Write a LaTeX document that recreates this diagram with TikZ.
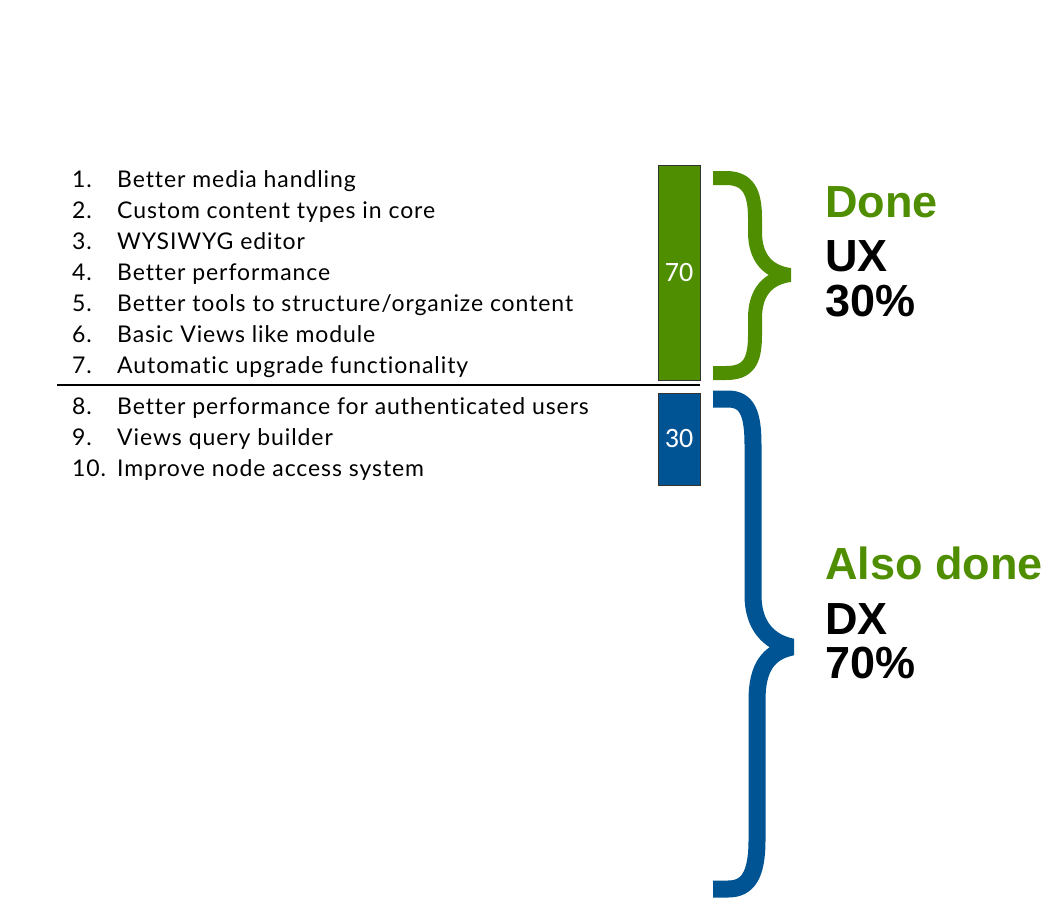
\documentclass[tikz,border=0pt]{standalone}
\usepackage{fontspec}
\usepackage{tikz}
\setmainfont{Lato}[LetterSpace=4,Ligatures=NoCommon]
\newfontfamily\headfont{Liberation Sans}
\newfontfamily\barfont{Carlito}
\definecolor{uxgreen}{RGB}{78,142,0}
\definecolor{dxblue}{RGB}{0,84,147}

\begin{document}
\begin{tikzpicture}[x=1pt,y=-1pt,
    item/.style={anchor=base west,inner sep=0pt,font=\fontsize{23}{23}\selectfont},
    bar/.style={draw=black!80,line width=1pt,minimum width=42pt,inner sep=0pt,
                text=white,font=\barfont\fontsize{28}{28}\selectfont},
    brace/.style={line width=#1,line join=bevel},
    head/.style={anchor=base west,inner sep=0pt,font=\headfont\bfseries\fontsize{45}{45}\selectfont}]

    \useasboundingbox (0,0) rectangle (1048,900);

    % list of wishes
    \foreach \n/\y/\t in {1/187/{Better media handling},
                          2/218/{Custom content types in core},
                          3/249/{WYSIWYG editor},
                          4/280/{Better performance},
                          5/311/{Better tools to structure/organize content},
                          6/342/{Basic Views like module},
                          7/373/{Automatic upgrade functionality},
                          8/414/{Better performance for authenticated users},
                          9/445/{Views query builder},
                          10/476/{Improve node access system}}{
      \node[item] (num\n) at (72,\y)  {\n.};
      \node[item] (txt\n) at (117,\y) {\t};
    }

    \coordinate (sepL) at (57,385);
    \coordinate (sepR) at (700,385);
    \draw[line width=2pt] (sepL) -- (sepR);

    % bars
    \node[bar,fill=uxgreen,minimum height=215pt] (70) at (679,272.5) {70};
    \node[bar,fill=dxblue,minimum height=92pt]   (30) at (679,439)   {30};

    % braces
    \draw[brace=14pt,uxgreen] (713,178) -- (726,178)
        .. controls (748,178) and (755,192) .. (755,218) -- (755,232)
        .. controls (755,258) and (768,272) .. (790,275)
        .. controls (768,278) and (755,292) .. (755,318) -- (755,335)
        .. controls (755,362) and (748,373) .. (726,373) -- (713,373);
    \draw[brace=17pt,dxblue] (713,399) -- (728,399)
        .. controls (748,399) and (753,415) .. (753,445) -- (753,595)
        .. controls (753,625) and (768,642) .. (792,647)
        .. controls (768,652) and (757,668) .. (757,700) -- (757,840)
        .. controls (757,875) and (748,889) .. (728,889) -- (713,889);

    % labels
    \node[head,text=uxgreen] (done)  at (825,217) {Done};
    \node[head]              (ux)    at (825,271) {UX};
    \node[head]              (uxp)   at (825,316) {30\%};
    \node[head,text=uxgreen] (also)  at (825,579) {Also done};
    \node[head]              (dx)    at (825,634) {DX};
    \node[head]              (dxp)   at (825,678) {70\%};
\end{tikzpicture}
\end{document}
